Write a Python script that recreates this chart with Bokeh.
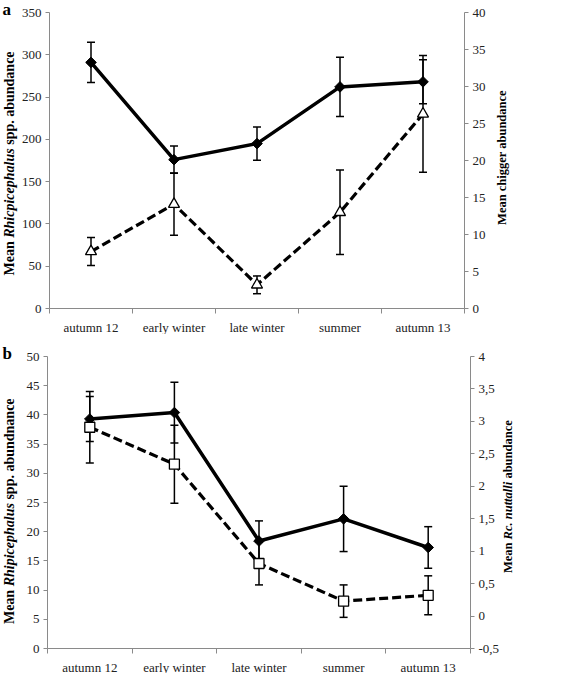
import math
from bokeh.plotting import figure
from bokeh.models import (Range1d, LinearAxis, FixedTicker, Whisker, TeeHead,
                          ColumnDataSource, Label)
from bokeh.layouts import column
from bokeh.embed import file_html
from bokeh.resources import INLINE

# ---------------- data ----------------
seasons = ["autumn 12", "early winter", "late winter", "summer", "autumn 13"]

# panel a
rhip_a = [291, 176, 195, 262, 268]
rhip_a_err = [23.8, 16, 19.7, 35, 26]
chigger = [7.7, 14.1, 3.2, 13.0, 26.3]
chigger_err = [1.9, 4.2, 1.2, 5.7, 7.9]

# panel b
rhip_b = [39.3, 40.4, 18.4, 22.2, 17.3]
rhip_b_err = [3.85, 5.2, 3.45, 5.6, 3.56]
nuttalli = [2.91, 2.34, 0.81, 0.23, 0.32]
nuttalli_err = [0.55, 0.60, 0.33, 0.25, 0.30]

ticks_a_left = [0, 50, 100, 150, 200, 250, 300, 350]
ticks_a_right = [0, 5, 10, 15, 20, 25, 30, 35, 40]
ticks_b_left = [0, 5, 10, 15, 20, 25, 30, 35, 40, 45, 50]
ticks_b_right = [-0.5, 0, 0.5, 1, 1.5, 2, 2.5, 3, 3.5, 4]
ticks_b_right_labels = ["-0,5", "0", "0,5", "1", "1,5", "2", "2,5", "3", "3,5", "4"]

FONT = "Liberation Serif"
AXIS_COLOR = "#8a8a8a"
TEXT_COLOR = "#222222"

# approximate Times bold / bold-italic advance widths (1/1000 em)
BOLD = {" ": 250, ".": 250, "M": 944, "R": 722, "a": 500, "b": 556, "c": 444,
        "d": 556, "e": 444, "g": 500, "h": 556, "i": 278, "l": 278, "n": 556,
        "o": 500, "p": 556, "r": 444, "s": 389, "t": 333, "u": 556}
BOLDIT = {" ": 250, ".": 250, "M": 889, "R": 667, "a": 500, "b": 500, "c": 444,
          "d": 500, "e": 444, "g": 500, "h": 556, "i": 278, "l": 278, "n": 556,
          "o": 500, "p": 500, "r": 389, "s": 389, "t": 278, "u": 556}


def tw(s, italic, size):
    table = BOLDIT if italic else BOLD
    return sum(table.get(c, 500) for c in s) * size / 1000.0


def vtitle(p, segments, x, yc, size):
    """vertical (bottom-to-top) title made of bold / bold-italic pieces;
    x, yc in screen px measured from the canvas bottom-left"""
    total = sum(tw(t, it, size) for t, it in segments)
    y = yc - total / 2.0
    for t, it in segments:
        lead = (len(t) - len(t.lstrip(" "))) * 250 * size / 1000.0
        core = t.strip(" ")
        p.add_layout(Label(x=x, y=y + lead, x_units="screen", y_units="screen",
                           text=core, angle=math.pi / 2, text_align="left",
                           text_baseline="middle", text_font=FONT,
                           text_font_size=f"{size}px",
                           text_font_style="bold italic" if it else "bold",
                           text_color="#000000"))
        y += tw(t, it, size)


def style_axis(ax):
    ax.axis_line_color = AXIS_COLOR
    ax.major_tick_line_color = AXIS_COLOR
    ax.minor_tick_line_color = AXIS_COLOR
    ax.major_tick_in = 0
    ax.major_tick_out = 4
    ax.minor_tick_in = 0
    ax.minor_tick_out = 0
    ax.major_label_text_font = FONT
    ax.major_label_text_font_size = "13px"
    ax.major_label_text_color = TEXT_COLOR
    ax.major_label_standoff = 4


def span(v0, v1, p_bottom, p_top, H):
    """range so that value v0 sits at canvas row p_bottom and v1 at p_top"""
    ppu = (p_bottom - p_top) / (v1 - v0)
    return Range1d(v0 - (H - p_bottom) / ppu, v1 + p_top / ppu)


def make_panel(W, H, px_left, px_right, px_top, px_bottom, yl, yr,
               lticks, rticks, rlabels,
               main, main_err, sec, sec_err, sec_marker, sec_size,
               left_title, right_title, letter, lt_frac, rt_frac, lt_size, rt_size,
               lt_dx, rt_dx):
    n = len(seasons)
    ppx = (px_right - px_left) / n
    x_range = Range1d(-px_left / ppx, n + (W - px_right) / ppx)
    p = figure(width=W, height=H, x_range=x_range,
               y_range=span(yl[0], yl[1], px_bottom, px_top, H),
               x_axis_type=None, y_axis_type=None,
               output_backend="svg", toolbar_location=None,
               min_border=0)
    p.outline_line_color = None
    p.grid.grid_line_color = None
    p.background_fill_color = "white"
    p.border_fill_color = "white"
    p.extra_y_ranges = {"r": span(yr[0], yr[1], px_bottom, px_top, H)}

    xs = [i + 0.5 for i in range(n)]

    # category axis: labels at centres, ticks at boundaries
    xa = LinearAxis(fixed_location=yl[0], bounds=(0, n),
                    ticker=FixedTicker(ticks=xs, minor_ticks=list(range(n + 1))))
    style_axis(xa)
    xa.major_label_overrides = {x: s for x, s in zip(xs, seasons)}
    xa.major_tick_out = 0
    xa.minor_tick_out = 5
    xa.major_label_standoff = 6
    p.add_layout(xa, "below")

    ya = LinearAxis(fixed_location=0, bounds=yl, ticker=FixedTicker(ticks=lticks))
    style_axis(ya)
    p.add_layout(ya, "left")

    ra = LinearAxis(y_range_name="r", fixed_location=n, bounds=yr,
                    ticker=FixedTicker(ticks=rticks))
    style_axis(ra)
    if rlabels is not None:
        ra.major_label_overrides = {float(t): s for t, s in zip(rticks, rlabels)}
    p.add_layout(ra, "right")

    # error bars
    src_m = ColumnDataSource(dict(x=xs, lo=[v - e for v, e in zip(main, main_err)],
                                  hi=[v + e for v, e in zip(main, main_err)]))
    src_s = ColumnDataSource(dict(x=xs, lo=[v - e for v, e in zip(sec, sec_err)],
                                  hi=[v + e for v, e in zip(sec, sec_err)]))
    for src, rn in ((src_m, "default"), (src_s, "r")):
        w = Whisker(source=src, base="x", lower="lo", upper="hi", dimension="height",
                    line_color="black", line_width=1.5,
                    upper_head=TeeHead(size=8, line_color="black", line_width=1.5),
                    lower_head=TeeHead(size=8, line_color="black", line_width=1.5))
        w.y_range_name = rn
        p.add_layout(w)

    # main series (solid, diamonds)
    p.line(xs, main, line_color="black", line_width=3.5)
    p.scatter(xs, main, marker="square", angle=math.pi / 4, size=7.5,
              fill_color="black", line_color="black")

    # secondary series (dashed, hollow markers)
    p.line(xs, sec, line_color="black", line_width=3.2, line_dash="9 4",
           y_range_name="r")
    p.scatter(xs, sec, marker=sec_marker, size=sec_size, fill_color="white",
              line_color="black", line_width=1.3, y_range_name="r")

    fh = px_bottom - px_top
    base = H - px_bottom
    vtitle(p, left_title, px_left - lt_dx, base + fh * lt_frac, lt_size)
    vtitle(p, right_title, px_right + rt_dx, base + fh * rt_frac, rt_size)

    p.add_layout(Label(x=2, y=H - px_top + 3, x_units="screen", y_units="screen",
                       text=letter, text_font=FONT, text_font_size="17px",
                       text_font_style="bold", text_color="black",
                       text_align="left", text_baseline="alphabetic"))
    return p


pa = make_panel(548, 334, 49, 464, 12, 308, (0, 350), (0, 40),
                ticks_a_left, ticks_a_right, None,
                rhip_a, rhip_a_err, chigger, chigger_err, "triangle", 11,
                [("Mean ", False), ("Rhicpicephalus", True), (" spp. abundance", False)],
                [("Mean chigger abundance", False)],
                "a", 0.49, 0.51, 14, 12.5, 40, 37)

pb = make_panel(548, 339, 47, 470, 22, 314, (0, 50), (-0.5, 4),
                ticks_b_left, ticks_b_right, ticks_b_right_labels,
                rhip_b, rhip_b_err, nuttalli, nuttalli_err, "square", 10,
                [("Mean ", False), ("Rhipicephalus", True), (" spp. abundnance", False)],
                [("Mean ", False), ("Rc. nuttalli", True), (" abundance", False)],
                "b", 0.47, 0.52, 14, 12.5, 38, 37)

layout = column(pa, pb, spacing=0)
open("out.html", "w").write(file_html(layout, INLINE))
